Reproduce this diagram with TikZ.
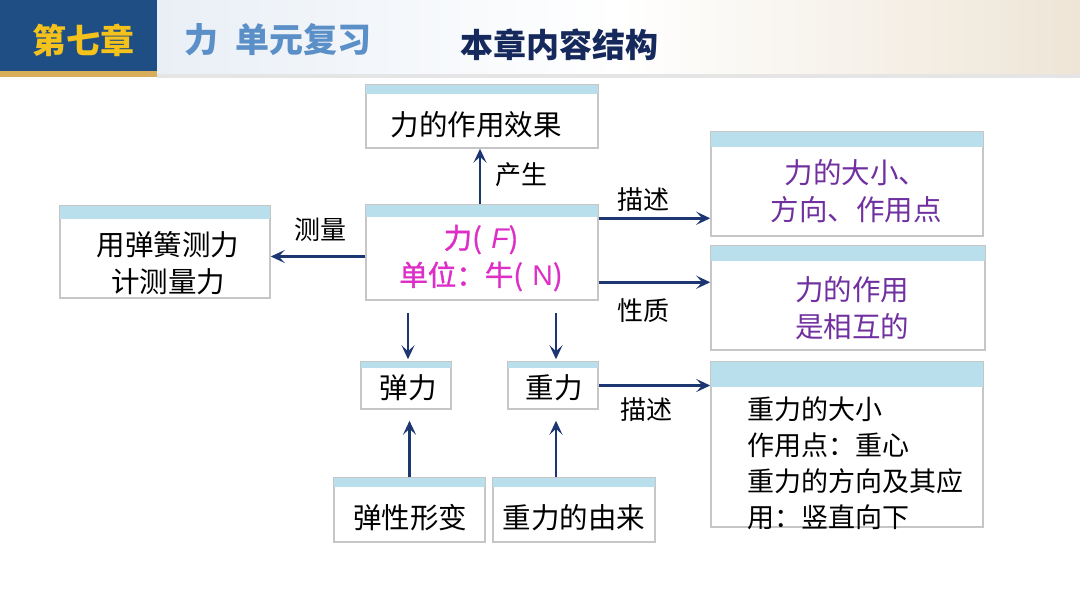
\documentclass[tikz,border=0pt]{standalone}
\usepackage{fontspec}
\setmainfont{Noto Sans CJK SC}
\newfontfamily\latinit{Liberation Sans}
\newfontfamily\heavycjk{Noto Sans CJK SC}[FakeBold=1.2]
\usetikzlibrary{calc,arrows.meta}
\definecolor{navy}{HTML}{1B3670}
\definecolor{strip}{HTML}{B9DEEC}
\definecolor{edge}{HTML}{C6C6C6}
\definecolor{hdrblue}{HTML}{1F4E84}
\definecolor{hdrgold}{HTML}{D9AE5A}
\definecolor{goldtxt}{HTML}{F5C21B}
\definecolor{steel}{HTML}{5B8FC7}
\definecolor{titlenavy}{HTML}{15295C}
\definecolor{magen}{HTML}{DD2FC8}
\definecolor{purp}{HTML}{7030A0}
\definecolor{beige}{HTML}{EEE5D6}
\definecolor{paleblue}{HTML}{E9EFF6}
\tikzset{
  box/.style={draw=edge, line width=1.5pt, fill=white, inner sep=0pt},
  arr/.style={draw=navy, line width=2.8pt, -{Stealth[length=14pt,width=13pt,inset=6pt]}},
  big/.style={font=\fontsize{28.5}{37}\selectfont, align=center, inner sep=0pt},
  lab/.style={font=\fontsize{26}{30}\selectfont, inner sep=0pt}
}
\newcommand{\stripon}[2]{\fill[strip] ([shift={(0.75pt,-0.75pt)}]#1.north west) rectangle ([shift={(-0.75pt,-#2)}]#1.north east);}
\begin{document}
\begin{tikzpicture}[x=1pt,y=-1pt]
\useasboundingbox (0,0) rectangle (1080,607);
\fill[white] (0,0) rectangle (1080,607);
% header
\shade[left color=paleblue, right color=beige, middle color=white] (157,0) rectangle (1080,74);
\fill[black!10] (157,74) rectangle (1080,78);
\fill[hdrblue] (0,0) rectangle (157,71);
\fill[hdrgold] (0,71) rectangle (157,77);
\node[font=\fontsize{34}{36}\selectfont\bfseries, text=goldtxt, inner sep=0pt] (chap) at (83,40) {第七章};
\node[font=\fontsize{34}{36}\selectfont\bfseries, text=steel, inner sep=0pt, anchor=west] (unit) at (184,40) {力\hspace{0.5em}单元复习};
\node[font=\fontsize{33}{36}\selectfont\bfseries, text=titlenavy, inner sep=0pt] (ttl) at (559,45) {本章内容结构};

% boxes
\node[box, minimum width=232pt, minimum height=63pt] (eff) at (482,116.5) {};
\stripon{eff}{10pt}
\node[big] (efft) at (476,125) {力的作用效果};

\node[box, minimum width=232pt, minimum height=95pt] (c) at (482,252.5) {};
\stripon{c}{13pt}
\node[big, text=magen] (ct) at (481,258) {\heavycjk 力(\,\,{\latinit\itshape F})\\\heavycjk 单位：牛(\,\,{\latinit N})};

\node[box, minimum width=210pt, minimum height=92pt] (meas) at (165,252) {};
\stripon{meas}{14pt}
\node[big] (meast) at (168,263.5) {用弹簧测力\\计测量力};

\node[box, minimum width=272pt, minimum height=104pt] (d1) at (847,184) {};
\stripon{d1}{16pt}
\node[big, text=purp] (d1t) at (856,191.5) {力的大小、\\方向、作用点};

\node[box, minimum width=274pt, minimum height=104pt] (d2) at (848,298) {};
\stripon{d2}{16pt}
\node[big, text=purp] (d2t) at (852,308.5) {力的作用\\是相互的};

\node[box, minimum width=90pt, minimum height=47pt] (ela) at (406,385.5) {};
\stripon{ela}{7pt}
\node[big] (elat) at (408,388) {弹力};

\node[box, minimum width=90pt, minimum height=47pt] (grav) at (553,385.5) {};
\stripon{grav}{7pt}
\node[big] (gravt) at (554,388) {重力};

\node[box, minimum width=272pt, minimum height=165pt] (gd) at (847,444.5) {};
\stripon{gd}{26pt}
\node[font=\fontsize{27}{36}\selectfont, inner sep=0pt, align=left, anchor=west] (gdt) at (747,463) {重力的大小\\作用点：重心\\重力的方向及其应\\用：竖直向下};

\node[box, minimum width=151pt, minimum height=64pt] (elas) at (409.5,510) {};
\stripon{elas}{10pt}
\node[big] (elast) at (410,518) {弹性形变};

\node[box, minimum width=162pt, minimum height=64pt] (orig) at (574,510) {};
\stripon{orig}{10pt}
\node[big] (origt) at (574,518) {重力的由来};

% connectors
\draw[arr] (c.north -| 480,0) -- (eff.south -| 480,0);
\node[lab] (l1) at (521,175) {产生};

\draw[arr] ($(c.west)+(0,4)$) -- ($(meas.east |- c.west)+(0,4)$);
\node[lab] (l2) at (320,230) {测量};

\coordinate (r1) at ($(c.north east)+(0,14)$);
\draw[arr] (r1) -- (r1 -| d1.west);
\node[lab] (l3) at (643,200) {描述};

\coordinate (r2) at ($(c.north east)+(0,78)$);
\draw[arr] (r2) -- (r2 -| d2.west);
\node[lab] (l4) at (643,311) {性质};

\coordinate (dn) at ($(c.south)+(0,12)$);
\draw[arr] (dn -| elat.north) -- ($(ela.north -| elat.north)+(0,-2)$);
\draw[arr] ($(dn)+(74,0)$) -- ($(grav.north)+(3,-2)$);

\draw[arr] (grav.east) -- (grav.east -| gd.west);
\node[lab] (l5) at (646,410) {描述};

\draw[arr] (elas.north) -- ($(elas.north |- ela.south)+(0,11)$);
\draw[arr] ($(orig.north)+(-18,0)$) -- ($(orig.north |- grav.south)+(-18,11)$);
\end{tikzpicture}
\end{document}
